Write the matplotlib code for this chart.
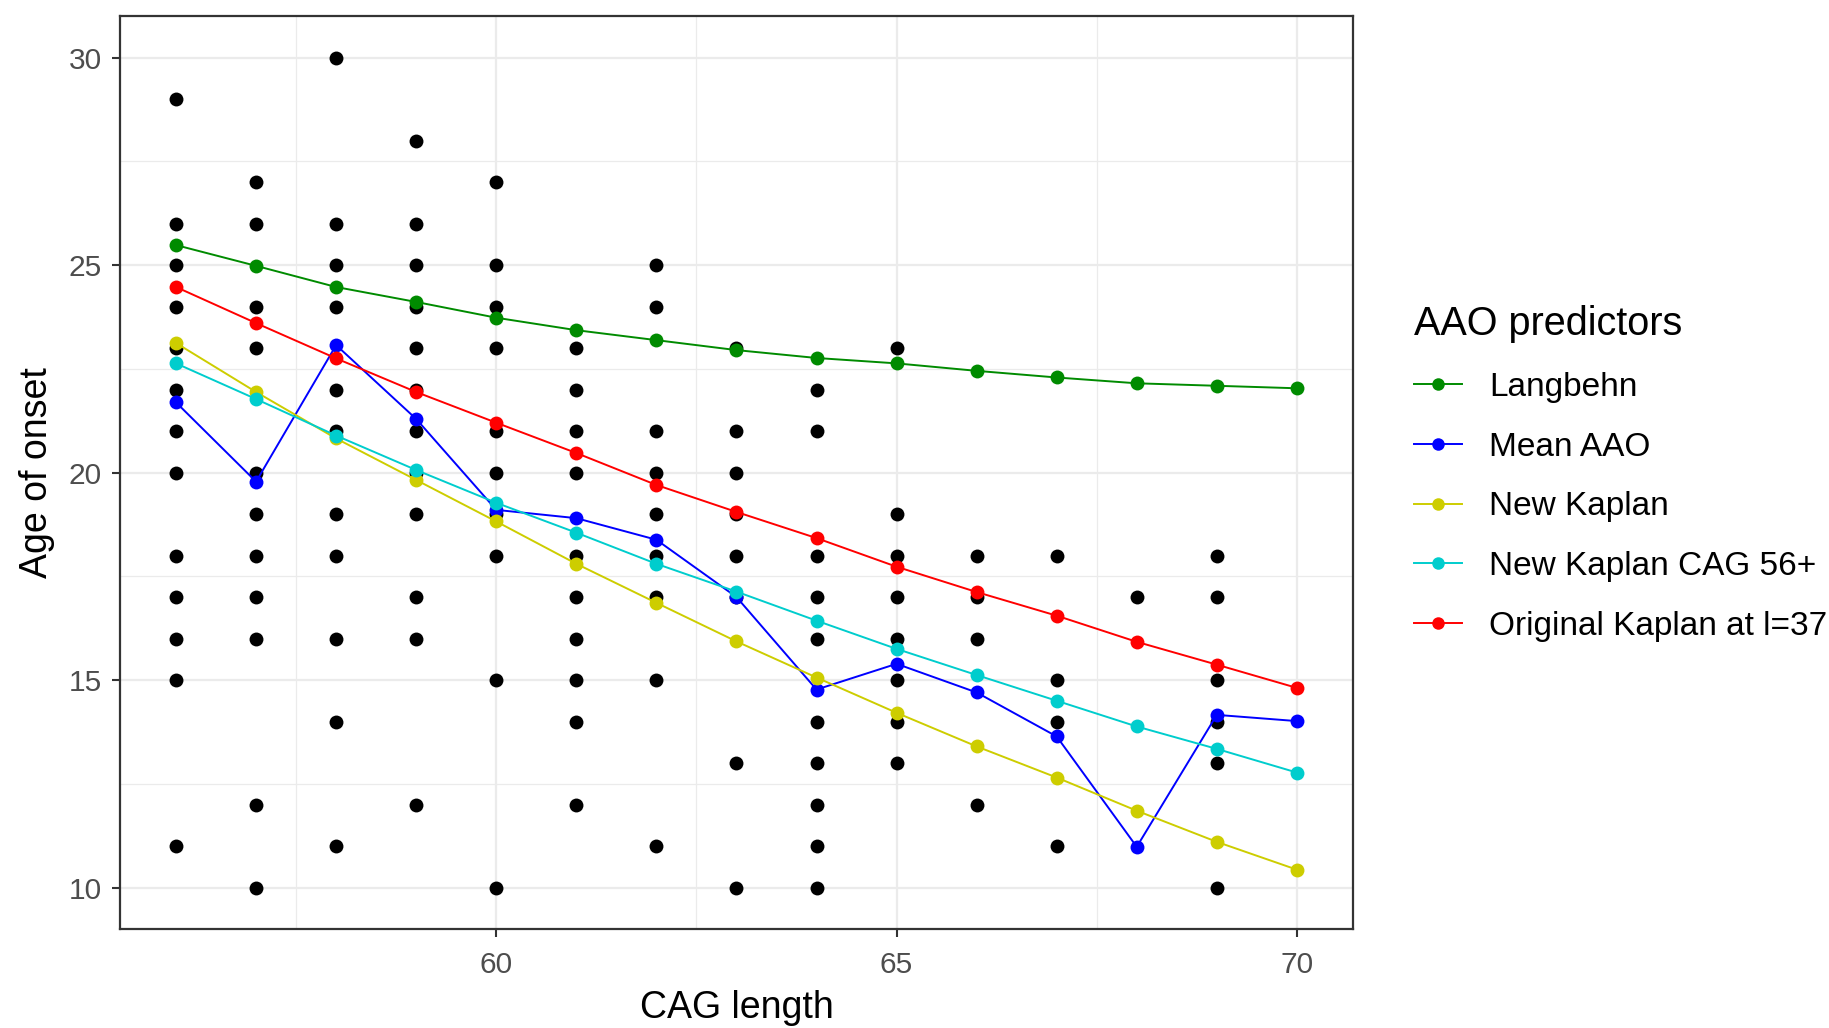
import matplotlib.pyplot as plt
from matplotlib.ticker import MultipleLocator

plt.rcParams['font.family'] = ['Liberation Sans', 'DejaVu Sans']

# observed age of onset per CAG length
obs_cag = ([56] * 13 + [57] * 11 + [58] * 11 + [59] * 12 + [60] * 10 + [61] * 10
           + [62] * 9 + [63] * 8 + [64] * 10 + [65] * 8 + [66] * 4 + [67] * 4
           + [68] * 1 + [69] * 6)
obs_age = [29, 26, 25, 24, 23, 22, 21, 20, 18, 17, 16, 15, 11,
           27, 26, 24, 23, 20, 19, 18, 17, 16, 12, 10,
           30, 26, 25, 24, 22, 21, 19, 18, 16, 14, 11,
           28, 26, 25, 24, 23, 22, 21, 20, 19, 17, 16, 12,
           27, 25, 24, 23, 21, 20, 19, 18, 15, 10,
           23, 22, 21, 20, 18, 17, 16, 15, 14, 12,
           25, 24, 21, 20, 19, 18, 17, 15, 11,
           23, 21, 20, 19, 18, 17, 13, 10,
           22, 21, 18, 17, 16, 14, 13, 12, 11, 10,
           23, 19, 18, 17, 16, 15, 14, 13,
           18, 17, 16, 12,
           18, 15, 14, 11,
           17,
           18, 17, 15, 14, 13, 10]

cag = list(range(56, 71))
langbehn = [25.48, 24.98, 24.47, 24.11, 23.73, 23.43, 23.19, 22.95, 22.76, 22.63,
            22.45, 22.29, 22.15, 22.09, 22.03]
mean_aao = [21.69, 19.78, 23.07, 21.29, 19.10, 18.90, 18.38, 17.00, 14.77, 15.39,
            14.70, 13.64, 10.98, 14.16, 14.01]
new_kaplan = [23.12, 21.94, 20.82, 19.82, 18.82, 17.80, 16.86, 15.93, 15.06, 14.21,
              13.40, 12.65, 11.85, 11.10, 10.43]
new_kaplan_56 = [22.63, 21.77, 20.89, 20.06, 19.27, 18.55, 17.80, 17.13, 16.43, 15.75,
                 15.12, 14.50, 13.88, 13.34, 12.77]
orig_kaplan = [24.47, 23.60, 22.75, 21.94, 21.20, 20.47, 19.70, 19.05, 18.42, 17.73,
               17.12, 16.55, 15.92, 15.37, 14.81]

series = [
    ("Langbehn", langbehn, "#008B00"),
    ("Mean AAO", mean_aao, "#0000FF"),
    ("New Kaplan", new_kaplan, "#CDCD00"),
    ("New Kaplan CAG 56+", new_kaplan_56, "#00CDCD"),
    ("Original Kaplan at l=37", orig_kaplan, "#FF0000"),
]

fig = plt.figure(figsize=(18.29, 10.28), dpi=100)
ax = fig.add_axes([0.0656, 0.0963, 0.6741, 0.8881])

ax.plot(obs_cag, obs_age, 'o', color='black', markersize=10, markeredgewidth=0, zorder=3)
for name, vals, col in series:
    ax.plot(cag, vals, '-o', color=col, label=name, linewidth=1.4,
            markersize=10, markeredgewidth=0, zorder=4)

ax.set_xlim(55.3, 70.7)
ax.set_ylim(9.0, 31.0)
ax.yaxis.set_major_locator(MultipleLocator(5))
ax.yaxis.set_minor_locator(MultipleLocator(2.5))
ax.set_xticks([60, 65, 70])
ax.set_xticks([57.5, 62.5, 67.5], minor=True)

ax.grid(which='major', color='#EBEBEB', linewidth=1.6, zorder=0)
ax.grid(which='minor', color='#EBEBEB', linewidth=0.9, zorder=0)
ax.set_axisbelow(True)
for s in ax.spines.values():
    s.set_color('#333333')
    s.set_linewidth(1.6)
ax.tick_params(which='major', length=6, width=1.5, color='#333333',
               labelsize=21.5, labelcolor='#4D4D4D', pad=7)
ax.tick_params(axis='x', which='major', pad=10)
ax.tick_params(which='minor', length=0)

ax.set_xlabel('CAG length', fontsize=27, labelpad=8)
ax.set_ylabel('Age of onset', fontsize=27, labelpad=10)

leg = ax.legend(loc='upper left', bbox_to_anchor=(0.766, 0.716),
                bbox_transform=fig.transFigure, frameon=False,
                title='AAO predictors', title_fontsize=28.5, fontsize=24,
                handlelength=1.44, handletextpad=0.8, labelspacing=0.86,
                markerscale=0.9, borderaxespad=0)
leg._legend_box.align = 'left'

fig.savefig('out.png', dpi=100)
